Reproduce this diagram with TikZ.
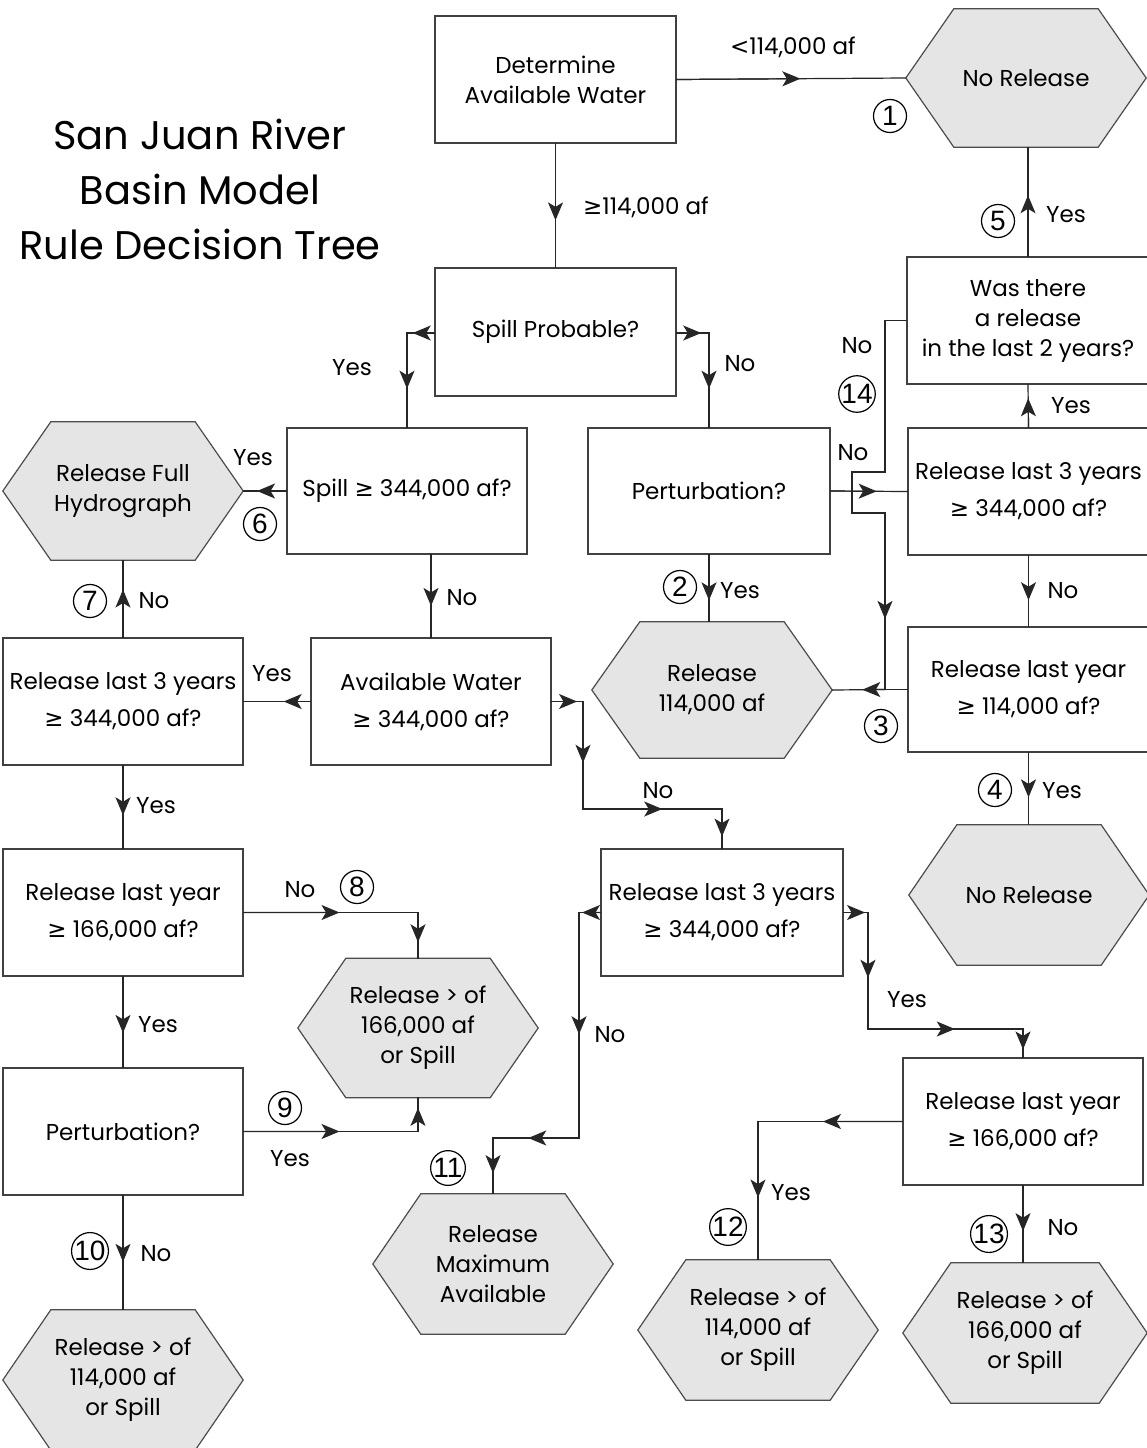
\documentclass[tikz,border=0pt]{standalone}
\usepackage{fontspec}
\setmainfont{Poppins}
\newfontfamily\numf{Liberation Sans}
\newfontfamily\symf{DejaVu Sans}
\usetikzlibrary{arrows.meta,calc}
\newcommand\gq{{\symf ≥}}
\newcommand\bodysize{\fontsize{23}{30}\selectfont}
\tikzset{
  box/.style={draw=black!75, line width=1.2pt, rectangle, align=center, inner sep=0pt, font=\bodysize},
  txt/.style={align=center, inner sep=0pt, font=\bodysize},
  lbl/.style={inner sep=0pt, font=\bodysize},
  num/.style={circle, draw=black, line width=1.2pt, minimum size=33pt, inner sep=0pt, font=\numf\fontsize{28}{28}\selectfont},
  hexs/.style={fill=black!10, draw=black!70, line width=1.2pt},
  ln/.style={draw=black!85, line width=1.2pt, line cap=rect},
  tip/.style={-{Stealth[length=18pt,width=15pt,inset=4.5pt]}, line cap=butt},
}
\newcommand\seg[3]{%
  \draw[ln] (#2) -- (#3);
  \draw[ln, tip] (#2) -- ($(#2)!#1!(#3)$);}
\newcommand\bx[6]{\node[box, minimum width={(#4-#2)*1pt}, minimum height={(#5-#3)*1pt}] (#1) at ({(#2+#4)/2},{(#3+#5)/2}) {#6};}
\newcommand\hx[6]{%
  \path (#2,#3) node[minimum width={2*#4*1pt}, minimum height={2*#5*1pt}, inner sep=0pt] (#1) {};
  \filldraw[hexs] (#1.west) -- ([xshift=48pt]#1.north west) -- ([xshift=-48pt]#1.north east) -- (#1.east) -- ([xshift=-48pt]#1.south east) -- ([xshift=48pt]#1.south west) -- cycle;
  \node[txt] (#1-t) at (#1) {#6};}
\begin{document}
\begin{tikzpicture}[x=1pt,y=-1pt]
\useasboundingbox (0,0) rectangle (1146,1448);
\fill[white] (0,0) rectangle (1146,1448);
% title
\node[align=center, inner sep=0pt, font=\fontsize{40}{55}\selectfont] (title) at (200,189) {San Juan River\\Basin Model\\Rule Decision Tree};
% boxes
\bx{det}{435}{16}{676}{143}{Determine\\Available Water}
\bx{spillp}{435}{268}{676}{396}{Spill Probable?}
\bx{spill}{287}{428}{527}{554}{Spill \gq{} 344,000 af?}
\bx{pert1}{588}{428}{830}{554}{Perturbation?}
\bx{was}{907}{257}{1149}{384}{Was there\\a release\\in the last 2 years?}
\bx{r3r}{908}{428}{1149}{555}{Release last 3 years\\[7pt]\gq{} 344,000 af?}
\bx{rlyr}{908}{627}{1149}{752}{Release last year\\[7pt]\gq{} 114,000 af?}
\bx{avail}{311}{638}{551}{765}{Available Water\\[7pt]\gq{} 344,000 af?}
\bx{r3l}{3}{638}{243}{765}{Release last 3 years\\[7pt]\gq{} 344,000 af?}
\bx{rlyl}{3}{849}{243}{976}{Release last year\\[7pt]\gq{} 166,000 af?}
\bx{pert2}{3}{1068}{243}{1195}{Perturbation?}
\bx{r3m}{601}{849}{843}{976}{Release last 3 years\\[7pt]\gq{} 344,000 af?}
\bx{rlyr2}{903}{1058}{1143}{1185}{Release last year\\[7pt]\gq{} 166,000 af?}
% hexagons
\hx{nr1}{1026}{78}{120}{69}{No Release}
\hx{rfh}{123}{491}{120}{69}{Release Full\\Hydrograph}
\hx{r114}{712}{690}{120}{68}{Release\\114,000 af}
\hx{nr4}{1029}{895}{120}{70}{No Release}
\hx{h8}{418}{1028}{120}{69.5}{Release > of\\166,000 af\\or Spill}
\hx{rmax}{493}{1264}{120}{70}{Release\\Maximum\\Available}
\hx{h10}{123}{1380}{120}{70}{Release > of\\114,000 af\\or Spill}
\hx{h12}{758}{1330}{120}{70}{Release > of\\114,000 af\\or Spill}
\hx{h13}{1025}{1333}{122}{70}{Release > of\\166,000 af\\or Spill}
% connector coordinates
\coordinate (cy) at (407,333);
\coordinate (cy0) at (spillp.west |- cy);
\coordinate (cn) at (709,333);
\coordinate (cn0) at (spillp.east |- cn);
\coordinate (f0) at (avail.north |- spill.south);
\coordinate (j1) at (h8.north |- rlyl.east);
\coordinate (l1) at (h8.south |- pert2.east);
\coordinate (na) at (583,701.5);
\coordinate (nb) at (583,809);
\coordinate (nc) at (r3m.north |- nb);
\coordinate (oa) at (579,912.5);
\coordinate (ob) at (579,1138);
\coordinate (oc) at (rmax.north |- ob);
\coordinate (pa) at (868,912.5);
\coordinate (pb) at (868,1029);
\coordinate (pc) at (rlyr2.north |- pb);
\coordinate (qa) at (h12.north |- rlyr2.west);
\coordinate (r1) at (rlyr2.south |- h13.north);
\coordinate (s1) at (pert1.south |- r114.north);
\coordinate (ka) at (885,320.5);
\coordinate (kb) at (885,472);
\coordinate (kc) at (852,472);
\coordinate (kd) at (852,513);
\coordinate (ke) at (885,513);
\coordinate (kf) at (885,689.5);
\coordinate (x1) at (was.north |- nr1.south);
\coordinate (y1) at (rlyr.south |- nr4.north);
% connectors
\seg{0.54}{det.east}{nr1.west}
\seg{0.62}{det.south}{spillp.north}
\seg{0.79}{cy0}{cy}
\seg{0.59}{cy}{spill.north}
\seg{0.76}{cn0}{cn}
\seg{0.59}{cn}{pert1.north}
\seg{0.68}{spill.west}{rfh.east}
\seg{0.62}{f0}{avail.north}
\seg{0.4}{avail.west}{r3l.east}
\seg{0.62}{r3l.north}{rfh.south}
\seg{0.6}{r3l.south}{rlyl.north}
\seg{0.55}{rlyl.east}{j1}
\seg{0.65}{j1}{h8.north}
\seg{0.62}{rlyl.south}{pert2.north}
\seg{0.55}{pert2.east}{l1}
\seg{0.7}{l1}{h8.south}
\seg{0.58}{pert2.south}{h10.north}
\seg{0.81}{avail.east}{na}
\seg{0.57}{na}{nb}
\seg{0.57}{nb}{nc}
\seg{0.7}{nc}{r3m.north}
\seg{0.86}{r3m.west}{oa}
\seg{0.54}{oa}{ob}
\seg{0.59}{ob}{oc}
\seg{0.63}{oc}{rmax.north}
\seg{0.88}{r3m.east}{pa}
\seg{0.56}{pa}{pb}
\seg{0.56}{pb}{pc}
\seg{0.72}{pc}{rlyr2.north}
\seg{0.55}{rlyr2.west}{qa}
\seg{0.55}{qa}{h12.north}
\seg{0.59}{rlyr2.south}{r1}
\seg{0.68}{pert1.south}{s1}
\seg{0.6}{pert1.east}{r3r.west}
\seg{0.68}{r3r.north}{was.south}
\seg{0.63}{r3r.south}{rlyr.north}
\draw[ln] (was.west) -- (ka) -- (kb) -- (kc) -- (kd) -- (ke);
\seg{0.6}{ke}{kf}
\draw[ln] (rlyr.west) -- (kf);
\seg{0.43}{kf}{r114.east}
\seg{0.56}{was.north}{x1}
\seg{0.62}{rlyr.south}{y1}
% labels
\node[lbl] (t1) at (793,47) {{\symf <}114,000 af};
\node[lbl] (t2) at (646,207) {\gq114,000 af};
\node[lbl] (t3) at (352,368) {Yes};
\node[lbl] (t4) at (740,364) {No};
\node[lbl] (t5) at (253,458) {Yes};
\node[lbl] (t6) at (462,598) {No};
\node[lbl] (t7) at (272,674) {Yes};
\node[lbl] (t8) at (154,601) {No};
\node[lbl] (t9) at (156,806) {Yes};
\node[lbl] (t10) at (300,890) {No};
\node[lbl] (t11) at (158,1025) {Yes};
\node[lbl] (t12) at (290,1159) {Yes};
\node[lbl] (t13) at (156,1254) {No};
\node[lbl] (t14) at (658,791) {No};
\node[lbl] (t15) at (610,1035) {No};
\node[lbl] (t16) at (907,1000) {Yes};
\node[lbl] (t17) at (791,1193) {Yes};
\node[lbl] (t18) at (1063,1228) {No};
\node[lbl] (t19) at (740,591) {Yes};
\node[lbl] (t20) at (853,453) {No};
\node[lbl] (t21) at (1071,406) {Yes};
\node[lbl] (t22) at (1063,591) {No};
\node[lbl] (t23) at (857,346) {No};
\node[lbl] (t24) at (1066,215) {Yes};
\node[lbl] (t25) at (1062,791) {Yes};
% circled numbers
\node[num] (c1) at (890,116) {1};
\node[num] (c2) at (680,587) {2};
\node[num] (c3) at (881,726) {3};
\node[num] (c4) at (995,790) {4};
\node[num] (c5) at (998,221) {5};
\node[num] (c6) at (260,524) {6};
\node[num] (c7) at (90,601) {7};
\node[num] (c8) at (357,887) {8};
\node[num] (c9) at (285,1108) {9};
\node[num] (c10) at (90,1251) {10};
\node[num] (c11) at (448,1168) {11};
\node[num] (c12) at (728,1227) {12};
\node[num] (c13) at (989,1234) {13};
\node[num] (c14) at (857,394) {14};
\end{tikzpicture}
\end{document}
